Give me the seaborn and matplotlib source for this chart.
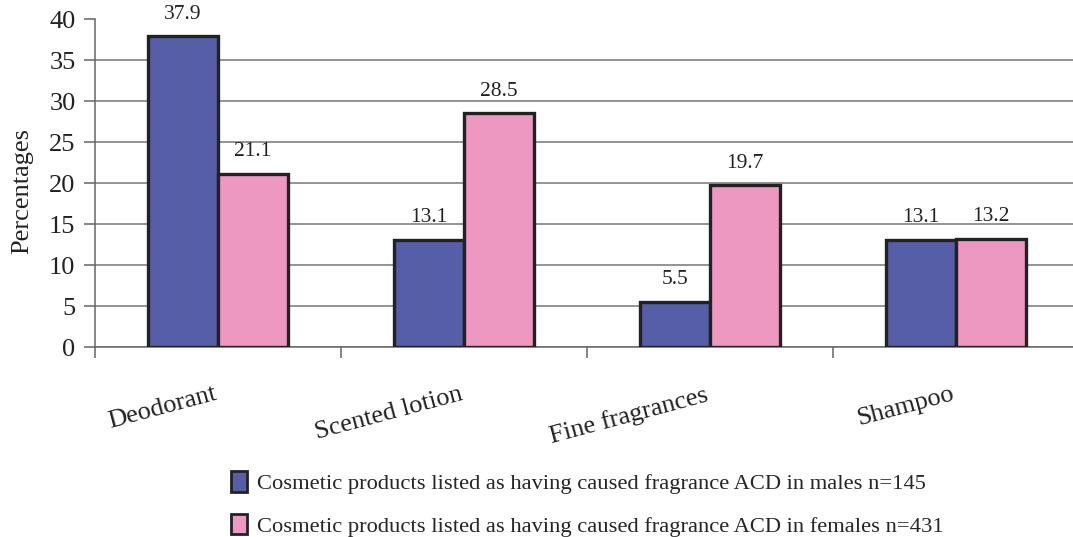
import numpy as np
import pandas as pd
import matplotlib
matplotlib.use('Agg')
import matplotlib.pyplot as plt
import matplotlib.transforms as mtransforms
from matplotlib.patches import Patch
import seaborn as sns

# Data
PRODUCTS = ['Deodorant', 'Scented lotion', 'Fine fragrances', 'Shampoo']
MALES = [37.9, 13.1, 5.5, 13.1]
FEMALES = [21.1, 28.5, 19.7, 13.2]
SERIES = ['Cosmetic products listed as having caused fragrance ACD in males n=145',
          'Cosmetic products listed as having caused fragrance ACD in females n=431']
COLORS = ['#555EA6', '#ED98C0']
YTICKS = [0, 5, 10, 15, 20, 25, 30, 35, 40]

df = pd.DataFrame({
    'product': PRODUCTS * 2,
    'pct': MALES + FEMALES,
    'group': [SERIES[0]] * len(PRODUCTS) + [SERIES[1]] * len(PRODUCTS),
})

sns.set_style('white')
plt.rcParams['font.family'] = ['Liberation Serif', 'DejaVu Serif']

fig = plt.figure(figsize=(10.73, 5.37), dpi=100)
ax = fig.add_axes([0.0885, 0.3538, 0.9115, 0.6108])

sns.barplot(data=df, x='product', y='pct', hue='group', order=PRODUCTS,
            hue_order=SERIES, palette=COLORS, saturation=1, width=0.57,
            edgecolor='#222222', linewidth=2.4, ax=ax, legend=False, zorder=3)

# value labels
for cont in ax.containers:
    ax.bar_label(cont, fmt='%.1f', padding=9, fontsize=15.5, color='#222222')

ax.set_ylim(0, 40)
ax.set_xlim(-0.5, 3.476)
ax.set_yticks(YTICKS)
ax.set_yticklabels([str(t) for t in YTICKS], fontsize=19, color='#222222')
ax.tick_params(axis='y', direction='out', length=8, width=1.1, color='#666666',
               left=True, pad=6)

# category boundary ticks on x
ax.set_xticks([-0.5, 0.5, 1.5, 2.5])
ax.set_xticklabels([])
ax.tick_params(axis='x', direction='out', length=8, width=1.1, color='#666666', bottom=True)

# rotated category names
trans = mtransforms.blended_transform_factory(ax.transData, ax.transAxes)
for i, name in enumerate(PRODUCTS):
    ax.text(i - 0.02, -0.11, name, transform=trans, rotation=15, ha='right', va='top',
            rotation_mode='anchor', fontsize=19, color='#222222')

ax.set_xlabel('')
ax.set_ylabel('Percentages', fontsize=19, color='#222222')
ax.yaxis.set_label_coords(-0.063, 0.475)

ax.yaxis.grid(True, color='#777777', linewidth=1.1, zorder=0)
ax.get_ygridlines()[-1].set_visible(False)
ax.set_axisbelow(True)

for side in ['top', 'right']:
    ax.spines[side].set_visible(False)
for side in ['left', 'bottom']:
    ax.spines[side].set_color('#666666')
    ax.spines[side].set_linewidth(1.1)

handles = [Patch(facecolor=c, edgecolor='#222222', linewidth=2) for c in COLORS]
fig.legend(handles=handles, labels=SERIES, loc='upper left',
           bbox_to_anchor=(0.205, 0.143), frameon=False, fontsize=16.2,
           handlelength=0.7, handleheight=1.0, handletextpad=0.45,
           labelspacing=0.87, borderpad=0)

fig.savefig('out.png', dpi=100)
plt.close(fig)
